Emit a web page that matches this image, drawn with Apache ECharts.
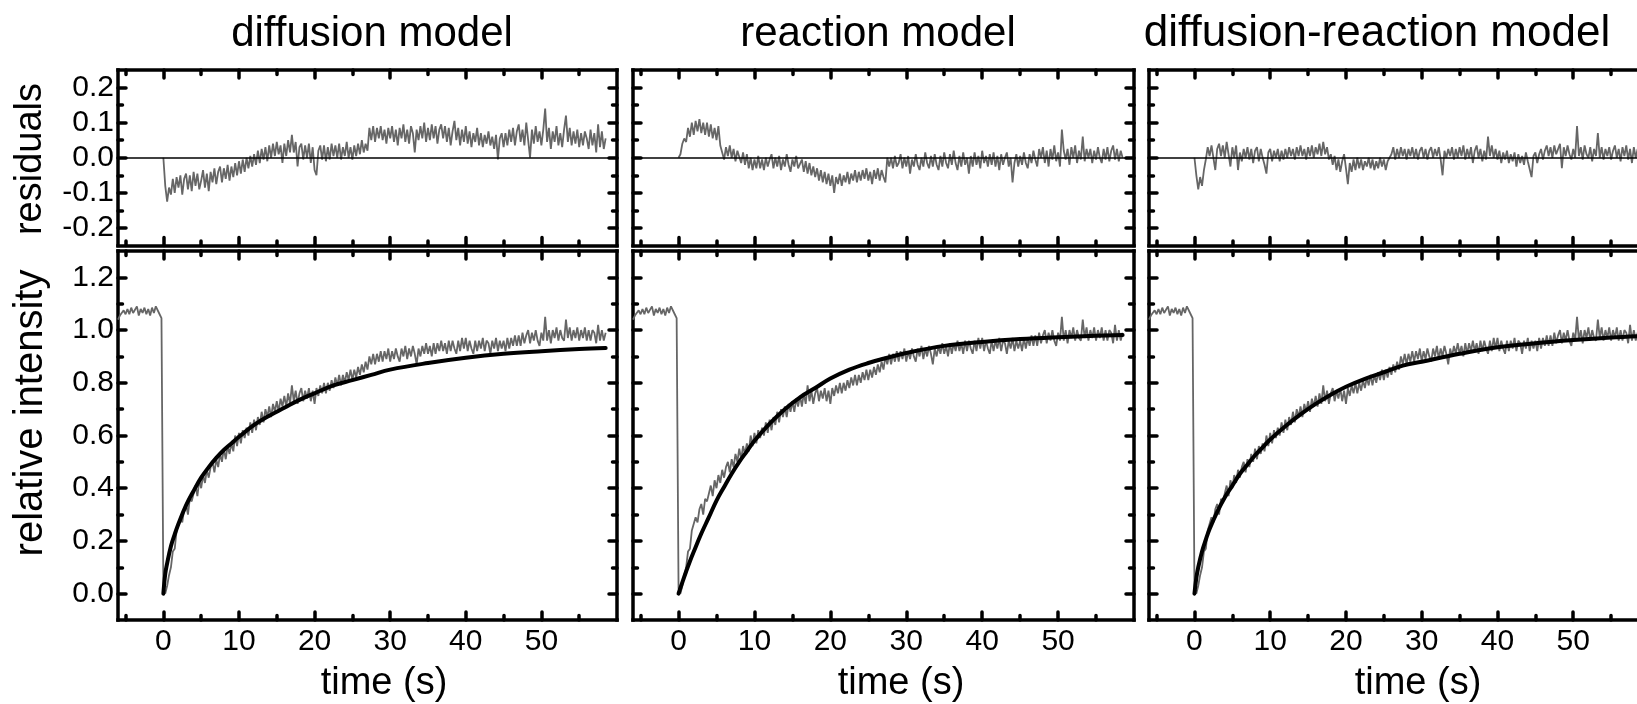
<!DOCTYPE html>
<html><head><meta charset="utf-8">
<script src="https://cdn.jsdelivr.net/npm/echarts@6/dist/echarts.min.js"></script>
<style>html,body{margin:0;padding:0;background:#fff}#c{width:1637px;height:704px}</style>
</head><body><div id="c"></div>
<script>
// ---- data ----
const T_START = -6, T_STEP = 0.25;      // sampling of the measured curve
const RES_START = 0;                     // residuals start at bleach time
const intensity = [
1.04,1.055,1.06,1.075, 1.06,1.08,1.06,1.085, 1.065,1.07,1.09,1.055, 1.08,1.065,1.085,1.06, 1.08,1.055,1.085,1.065, 1.09,1.085,1.06,1.045,
0.02,0.0,0.03,0.07, 0.10,0.16,0.17,0.24, 0.24,0.29,0.27,0.32, 0.34,0.30,0.36,0.35, 0.38,0.41,0.37,0.43,
0.40,0.45,0.42,0.47, 0.44,0.48,0.50,0.46, 0.51,0.48,0.53,0.50, 0.55,0.51,0.56,0.53, 0.57,0.54,0.60,0.56,
0.61,0.57,0.62,0.59, 0.63,0.60,0.65,0.61, 0.66,0.62,0.67,0.64, 0.69,0.65,0.70,0.67, 0.71,0.67,0.72,0.69,
0.73,0.69,0.74,0.71, 0.75,0.71,0.76,0.72, 0.79,0.73,0.77,0.72, 0.76,0.78,0.73,0.77, 0.74,0.78,0.73,0.77,
0.72,0.78,0.75,0.79, 0.76,0.80,0.76,0.80, 0.77,0.81,0.78,0.82, 0.79,0.83,0.79,0.83, 0.80,0.84,0.81,0.85,
0.81,0.85,0.82,0.86, 0.83,0.87,0.84,0.88, 0.85,0.90,0.87,0.91, 0.87,0.91,0.88,0.92, 0.88,0.92,0.89,0.93,
0.88,0.92,0.89,0.93, 0.90,0.88,0.93,0.90, 0.94,0.89,0.93,0.90, 0.94,0.91,0.87,0.93, 0.90,0.94,0.91,0.95,
0.91,0.94,0.90,0.95, 0.91,0.95,0.92,0.96, 0.92,0.95,0.91,0.96, 0.92,0.96,0.93,0.91, 0.96,0.92,0.97,0.93,
0.97,0.92,0.96,0.93, 0.91,0.96,0.92,0.96, 0.93,0.97,0.92,0.96, 0.95,0.91,0.96,0.93, 0.97,0.92,0.96,0.93,
0.96,0.92,0.97,0.93, 0.97,0.94,0.98,0.94, 0.98,0.94,0.99,0.95, 0.98,1.00,0.95,0.99, 0.96,1.00,0.96,0.94,
0.99,0.96,1.05,0.96, 1.00,0.95,1.00,0.97, 1.01,0.96,1.00,0.97, 0.96,1.04,0.97,1.01, 0.96,1.00,0.97,1.01,
0.96,1.00,0.97,1.01, 0.96,1.00,0.96,1.00, 0.99,0.95,1.02,0.96, 1.00,0.96,0.99
];
const residualDiffusion = [
0.0,-0.08,-0.125,-0.085, -0.105,-0.06,-0.1,-0.055, -0.085,-0.05,-0.105,-0.06, -0.045,-0.09,-0.05,-0.095, -0.04,-0.08,-0.045,-0.09,
-0.065,-0.035,-0.085,-0.045, -0.095,-0.04,-0.07,-0.03, -0.075,-0.04,-0.025,-0.07, -0.03,-0.06,-0.02,-0.065, -0.025,-0.055,-0.015,-0.05,
-0.01,-0.045,-0.005,-0.04, 0.0,-0.03,0.005,-0.025, 0.01,-0.02,0.02,-0.015, 0.025,-0.005,0.03,-0.01, 0.035,0.0,0.04,0.005,
0.045,0.01,0.035,-0.015, 0.04,0.005,0.05,0.015, 0.065,0.015,0.045,-0.025, 0.03,0.04,-0.005,0.035, 0.0,0.04,-0.015,0.03,
-0.035,-0.05,0.02,0.035, -0.005,0.035,-0.01,0.03, -0.005,0.04,0.005,0.035, 0.0,0.04,-0.005,0.03, 0.005,0.045,0.0,0.03,
-0.005,0.035,0.005,0.04, 0.01,0.05,0.015,0.04, 0.02,0.085,0.05,0.09, 0.045,0.085,0.055,0.09, 0.05,0.08,0.04,0.085,
0.055,0.09,0.045,0.08, 0.035,0.085,0.055,0.095, 0.045,0.08,0.04,0.09, 0.07,0.015,0.08,0.05, 0.09,0.055,0.1,0.045,
0.085,0.05,0.095,0.055, 0.09,0.04,0.08,0.095, 0.055,0.09,0.045,0.085, 0.035,0.075,0.105,0.05, 0.085,0.035,0.08,0.045,
0.09,0.04,0.075,0.03, 0.07,0.045,0.085,0.035, 0.07,0.03,0.065,0.04, 0.075,0.035,0.06,0.025, 0.065,-0.005,0.055,0.07,
0.03,0.07,0.035,0.08, 0.045,0.085,0.035,0.075, 0.095,0.045,0.08,0.035, 0.1,0.05,0.0,0.08, 0.04,0.09,0.045,0.075,
0.035,0.08,0.14,0.045, 0.085,0.025,0.075,0.045, 0.09,0.035,0.07,0.03, 0.08,0.12,0.045,0.085, 0.035,0.075,0.04,0.08,
0.03,0.07,0.035,0.075, 0.055,0.025,0.08,0.035, 0.07,0.015,0.095,0.03, 0.075,0.025,0.055
];
const residualReaction = [
0.0,0.01,0.04,0.055, 0.045,0.085,0.06,0.1, 0.065,0.105,0.075,0.11, 0.07,0.1,0.065,0.1, 0.06,0.095,0.055,0.085,
0.05,0.09,0.035,0.015, -0.005,0.03,0.005,0.035, 0.0,0.025,-0.01,0.02, 0.025,-0.015,0.015,-0.02, 0.01,-0.03,0.0,-0.035,
-0.005,-0.03,0.005,-0.03, -0.005,-0.035,0.0,-0.025, -0.005,0.01,-0.03,0.0, -0.025,0.005,-0.035,-0.005, -0.025,0.01,-0.02,-0.04,
-0.005,-0.025,0.005,-0.03, -0.035,-0.005,-0.04,-0.01, -0.045,-0.015,-0.05,-0.025, -0.055,-0.03,-0.065,-0.035, -0.07,-0.04,-0.075,-0.045,
-0.08,-0.05,-0.1,-0.055, -0.075,-0.045,-0.08,-0.05, -0.07,-0.04,-0.075,-0.045, -0.065,-0.035,-0.07,-0.04, -0.065,-0.035,-0.06,-0.03,
-0.065,-0.04,-0.075,-0.035, -0.06,-0.03,-0.065,-0.035, -0.055,-0.07,0.0,-0.025, 0.0,-0.03,0.005,-0.025, -0.015,0.01,-0.03,0.0,
-0.025,0.005,-0.045,-0.005, -0.025,0.01,-0.02,-0.035, 0.0,-0.025,0.015,-0.015, -0.03,0.005,-0.025,0.01, -0.02,-0.035,0.005,-0.025,
0.015,-0.015,-0.03,0.01, -0.02,0.02,-0.015,-0.035, 0.005,-0.025,0.015,-0.02, 0.0,-0.045,0.005,-0.025, 0.015,-0.02,0.005,-0.03,
0.02,-0.015,0.005,-0.025, 0.01,-0.02,0.015,-0.025, 0.005,-0.035,0.01,-0.02, 0.0,0.015,-0.025,0.0, -0.07,-0.015,0.01,-0.025,
0.005,-0.02,0.015,-0.015, -0.03,0.01,-0.015,0.02, -0.005,-0.025,0.025,0.0, 0.03,-0.015,0.02,-0.025, 0.025,-0.005,0.035,-0.01,
0.015,-0.025,0.08,0.02, -0.005,0.025,-0.02,0.03, 0.0,0.035,-0.015,0.02, -0.005,0.06,-0.01,0.025, 0.0,0.025,-0.015,0.02,
-0.005,0.03,0.0,-0.015, 0.025,-0.005,0.03,-0.01, 0.02,0.035,-0.005,0.025, -0.01,0.02,0.0
];
const residualDiffReact = [
0.0,-0.05,-0.09,-0.055, -0.08,-0.035,-0.005,0.03, 0.005,0.035,0.0,-0.035, 0.025,0.04,0.005,0.035, 0.0,0.045,0.01,-0.025,
0.03,0.0,0.035,-0.035, 0.015,-0.01,0.025,0.0, 0.03,-0.005,0.025,-0.015, 0.02,0.03,-0.01,0.025, 0.0,-0.02,-0.045,0.015,
0.025,-0.01,0.02,0.0, 0.025,-0.01,0.02,-0.005, 0.025,0.0,0.03,0.005, 0.025,-0.005,0.03,0.005, 0.035,0.005,0.025,-0.005,
0.03,0.005,0.035,0.0, 0.03,0.01,0.04,0.005, 0.045,0.01,0.03,-0.005, 0.01,-0.02,0.005,-0.035, -0.005,-0.04,-0.01,0.01,
-0.03,-0.075,-0.015,-0.04, -0.005,-0.035,0.0,-0.03, -0.005,-0.035,-0.01,-0.025, 0.0,-0.03,-0.005,-0.035, -0.01,-0.03,0.0,-0.025,
-0.005,-0.035,-0.01,0.0, 0.01,0.03,-0.005,0.025, 0.0,0.03,0.005,0.025, -0.005,0.025,0.005,0.03, 0.0,0.025,-0.005,0.02,
0.03,0.0,0.025,-0.005, 0.02,0.03,0.0,0.025, 0.005,0.03,-0.005,-0.05, 0.02,0.0,0.025,0.005, 0.03,-0.005,0.025,0.0,
0.03,0.005,0.035,-0.005, 0.025,0.0,0.03,-0.015, 0.02,0.035,0.0,0.025, -0.01,0.02,-0.005,0.06, 0.005,0.035,0.0,0.025,
-0.005,0.02,-0.015,0.015, -0.005,0.02,-0.015,0.01, -0.01,0.015,-0.025,0.01, -0.015,0.005,-0.02,0.015, -0.01,-0.015,-0.055,0.005,
0.015,-0.015,0.01,0.025, -0.005,0.02,0.035,0.005, 0.03,0.0,0.035,0.01, 0.025,0.04,-0.03,0.03, 0.005,0.035,0.01,-0.005,
0.025,0.0,0.09,0.005, 0.03,-0.005,0.035,0.01, 0.0,0.03,-0.01,0.025, 0.005,0.07,0.0,0.03, -0.005,0.025,0.005,0.03,
-0.005,0.02,0.035,0.0, 0.025,-0.01,0.03,0.005, 0.035,-0.005,0.025,-0.015, 0.03,0.0,0.025
];
const fitTime      = [0,0.25,0.5,1,1.5,2,3,4,5,6,7,8,9,10,12,14,16,18,20,22.5,25,27.5,30,35,40,45,50,55,58.5];
const fitDiffusion = [0,0.075,0.115,0.18,0.225,0.265,0.335,0.39,0.44,0.48,0.515,0.545,0.57,0.595,0.64,0.675,0.705,0.735,0.76,0.79,0.81,0.83,0.85,0.875,0.895,0.91,0.92,0.928,0.932];
const fitReaction  = [0,0.022,0.043,0.084,0.123,0.159,0.228,0.29,0.353,0.405,0.455,0.50,0.54,0.58,0.645,0.70,0.745,0.78,0.816,0.85,0.875,0.895,0.913,0.94,0.955,0.966,0.973,0.978,0.981];
const fitDiffReact = [0,0.06,0.10,0.16,0.205,0.245,0.31,0.365,0.41,0.455,0.49,0.525,0.555,0.585,0.635,0.68,0.72,0.755,0.785,0.815,0.84,0.865,0.88,0.91,0.935,0.95,0.962,0.972,0.977];

const titles = ['diffusion model', 'reaction model', 'diffusion-reaction model'];
const xName = 'time (s)';
const resName = 'residuals';
const intName = 'relative intensity';
const xMajor = [0, 10, 20, 30, 40, 50];
const xMinor = [-5, 5, 15, 25, 35, 45, 55];
const resMajor = [-0.2, -0.1, 0, 0.1, 0.2];
const resMinor = [-0.15, -0.05, 0.05, 0.15];
const intMajor = [0, 0.2, 0.4, 0.6, 0.8, 1.0, 1.2];
const intMinor = [0.1, 0.3, 0.5, 0.7, 0.9, 1.1];

// ---- layout ----
const FONT = "'Liberation Sans', Arial, Helvetica, sans-serif";
const TICK_FONT = 30;
const panelLeft = [118, 633, 1149];
const panelWidth = [499, 501, 500];
const resTop = 70, resH = 175.5, intTop = 251, intH = 369;
const BW = 3.5;

const residualSets = [residualDiffusion, residualReaction, residualDiffReact];
const fitSets = [fitDiffusion, fitReaction, fitDiffReact];

const grids = [], xAxes = [], yAxes = [], series = [];

function tickAxis(base, pos, vals, len, showLine) {
  return Object.assign({}, base, {
    position: pos,
    axisLine: { show: showLine, onZero: false, lineStyle: { color: '#000', width: BW, cap: 'square' } },
    axisTick: { show: true, inside: true, length: len, customValues: vals,
      lineStyle: { color: '#000', width: BW, cap: 'round' } },
    axisLabel: { show: false },
    splitLine: { show: false },
    minorTick: { show: false }
  });
}

function addGrid(left, top, width, height, xr, yr, yMaj, yMin, showX, showY) {
  const g = grids.length;
  grids.push({ left, top, width, height, containLabel: false, outerBoundsMode: 'none' });
  const xb = { gridIndex: g, type: 'value', min: xr[0], max: xr[1] };
  const yb = { gridIndex: g, type: 'value', min: yr[0], max: yr[1] };
  const xi = xAxes.length, yi = yAxes.length;
  const xMain = tickAxis(xb, 'bottom', xMajor, 8, true);
  if (showX) xMain.axisLabel = { show: true, customValues: xMajor, fontSize: TICK_FONT, fontFamily: FONT, color: '#000', margin: 7 };
  xAxes.push(xMain, tickAxis(xb, 'bottom', xMinor, 4.5, false),
             tickAxis(xb, 'top', xMajor, 8, true), tickAxis(xb, 'top', xMinor, 4.5, false));
  const yMainAx = tickAxis(yb, 'left', yMaj, 8, true);
  if (showY) yMainAx.axisLabel = { show: true, customValues: yMaj, fontSize: TICK_FONT, fontFamily: FONT, color: '#000', margin: 4,
    formatter: v => Number(v).toFixed(1) };
  yAxes.push(yMainAx, tickAxis(yb, 'left', yMin, 4.5, false),
             tickAxis(yb, 'right', yMaj, 8, true), tickAxis(yb, 'right', yMin, 4.5, false));
  return { xi, yi };
}

const graphic = [];
for (let p = 0; p < 3; p++) {
  const L = panelLeft[p], W = panelWidth[p];
  const r = addGrid(L, resTop, W, resH, [-6, 60], [-0.25, 0.25], resMajor, resMinor, false, p === 0);
  const m = addGrid(L, intTop, W, intH, [-6, 60], [-0.1, 1.3], intMajor, intMinor, true, p === 0);

  series.push({
    type: 'line', xAxisIndex: r.xi, yAxisIndex: r.yi, showSymbol: false, symbol: 'none',
    data: residualSets[p].map((v, i) => [RES_START + i * T_STEP, v]),
    lineStyle: { color: '#666', width: 1.8 }, z: 2,
    markLine: { silent: true, symbol: ['none', 'none'], label: { show: false },
      lineStyle: { color: '#000', width: 1.6, type: 'solid' }, data: [{ yAxis: 0 }], z: 3 }
  });
  series.push({
    type: 'line', xAxisIndex: m.xi, yAxisIndex: m.yi, showSymbol: false, symbol: 'none',
    data: intensity.map((v, i) => [T_START + i * T_STEP, v]),
    lineStyle: { color: '#666', width: 1.8 }, z: 2
  });
  series.push({
    type: 'line', xAxisIndex: m.xi, yAxisIndex: m.yi, showSymbol: false, symbol: 'none', smooth: 0.4,
    data: fitTime.map((t, i) => [t, fitSets[p][i]]),
    lineStyle: { color: '#000', width: 4, cap: 'round' }, z: 4
  });
}

const titleX = [372, 878, 1377];
const titleSize = [42, 42, 44];
const nameX = [384, 901, 1418];
function txt(text, x, y, size, rot) {
  return { type: 'text', x, y, rotation: rot || 0, silent: true,
    style: { text, fontSize: size, fontFamily: FONT, fill: '#000',
      textAlign: 'center', textVerticalAlign: 'middle', align: 'center', verticalAlign: 'middle' } };
}
for (let p = 0; p < 3; p++) {
  graphic.push(txt(titles[p], titleX[p], 34, titleSize[p]));
  graphic.push(txt(xName, nameX[p], 684, 38));
}
graphic.push(txt(resName, 31, 159, 38, Math.PI / 2));
graphic.push(txt(intName, 31, 413, 40, Math.PI / 2));

const chart = echarts.init(document.getElementById('c'), null, { renderer: 'canvas' });
chart.setOption({
  animation: false,
  backgroundColor: '#fff',
  grid: grids, xAxis: xAxes, yAxis: yAxes, series, graphic
});
</script></body></html>
